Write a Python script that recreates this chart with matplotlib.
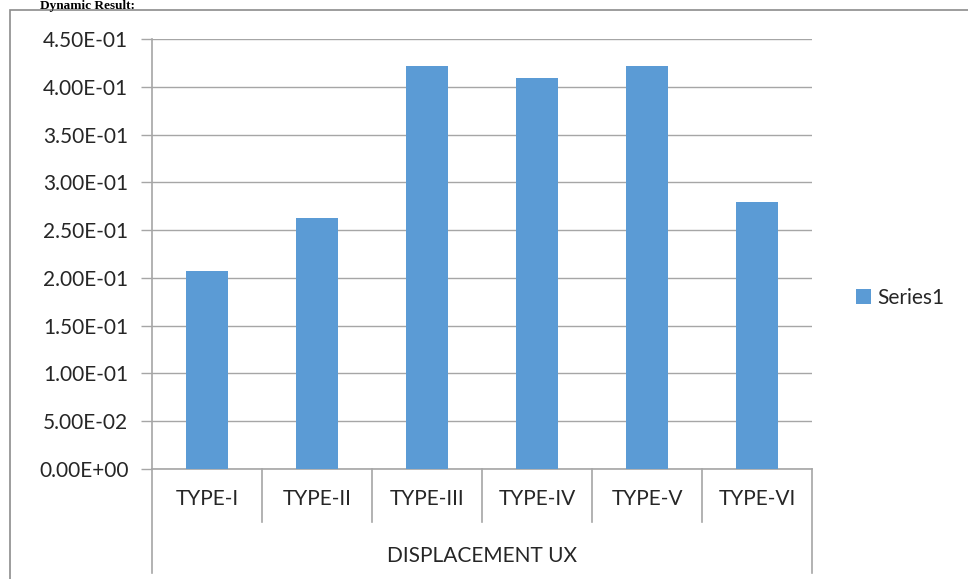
import numpy as np
import matplotlib.pyplot as plt
from matplotlib.patches import Rectangle
from matplotlib.ticker import FuncFormatter
import matplotlib.transforms as mtransforms

types = ['TYPE-I', 'TYPE-II', 'TYPE-III', 'TYPE-IV', 'TYPE-V', 'TYPE-VI']
ux = [0.207, 0.263, 0.422, 0.409, 0.422, 0.279]
group_label = 'DISPLACEMENT UX'
series_name = 'Series1'
yticks = np.arange(0, 0.451, 0.05)

plt.rcParams['font.family'] = ['Lato', 'DejaVu Sans']
fs = 15

W, H = 968, 579
fig = plt.figure(figsize=(W / 100, H / 100), dpi=100)

def fx(px):
    return px / W

def fy(py):
    return 1 - py / H

# chart frame (runs off the right and bottom edges)
fig.patches.append(Rectangle((fx(10), fy(600)), fx(1000), fy(10) - fy(600),
                             transform=fig.transFigure, fill=False,
                             edgecolor='#8c8c8c', linewidth=1.2))
fig.text(fx(135), fy(8.5), 'Dynamic Result:', ha='right', va='baseline',
         family='Liberation Serif', weight='bold', fontsize=9.5)

ax = fig.add_axes([fx(152), fy(469), fx(812) - fx(152), fy(39) - fy(469)])
x = np.arange(len(types))
ax.bar(x, ux, width=0.39, color='#5B9BD5', label=series_name, zorder=3)
ax.set_xlim(-0.5, len(types) - 0.5)
ax.set_ylim(0, 0.45)
ax.set_yticks(yticks)
ax.yaxis.set_major_formatter(FuncFormatter(lambda v, p: '{:.2E}'.format(v)))
ax.tick_params(axis='y', length=8, width=1, color='#a6a6a6', labelsize=fs,
               labelcolor='#262626', pad=9)
ax.tick_params(axis='x', bottom=False, labelbottom=False)
ax.grid(axis='y', color='#a6a6a6', linewidth=1, zorder=0)
for s in ['top', 'right', 'bottom']:
    ax.spines[s].set_visible(False)
ax.spines['left'].set_color('#a6a6a6')
ax.spines['left'].set_linewidth(1.2)

# two-level category axis under the plot
tr = mtransforms.blended_transform_factory(ax.transData, fig.transFigure)
grey = '#a6a6a6'
n = len(types)
ax.plot([-0.5, n - 0.5], [fy(469), fy(469)], transform=tr,
        color=grey, linewidth=1.2, clip_on=False)
ax.plot([-0.5, -0.5], [fy(469), fy(573)], transform=tr, color=grey,
        linewidth=1.2, clip_on=False)
ax.plot([n - 0.5] * 2, [fy(469), fy(573)], transform=tr, color=grey,
        linewidth=1.2, clip_on=False)
for i in range(1, n):
    ax.plot([i - 0.5, i - 0.5], [fy(469), fy(522)], transform=tr, color=grey,
            linewidth=1.2, clip_on=False)
for i, t in enumerate(types):
    ax.text(i, fy(505), t, transform=tr, ha='center', va='baseline',
            fontsize=fs, color='#262626')
ax.text((n - 1) / 2, fy(562), group_label, transform=tr,
        ha='center', va='baseline', fontsize=fs, color='#262626')

ax.legend(loc='center left', bbox_to_anchor=(fx(848), fy(298)),
          bbox_transform=fig.transFigure, frameon=False, fontsize=fs,
          handlelength=0.7, handleheight=0.7, handletextpad=0.3,
          borderaxespad=0, labelcolor='#262626')

fig.savefig('out.png', dpi=100)
